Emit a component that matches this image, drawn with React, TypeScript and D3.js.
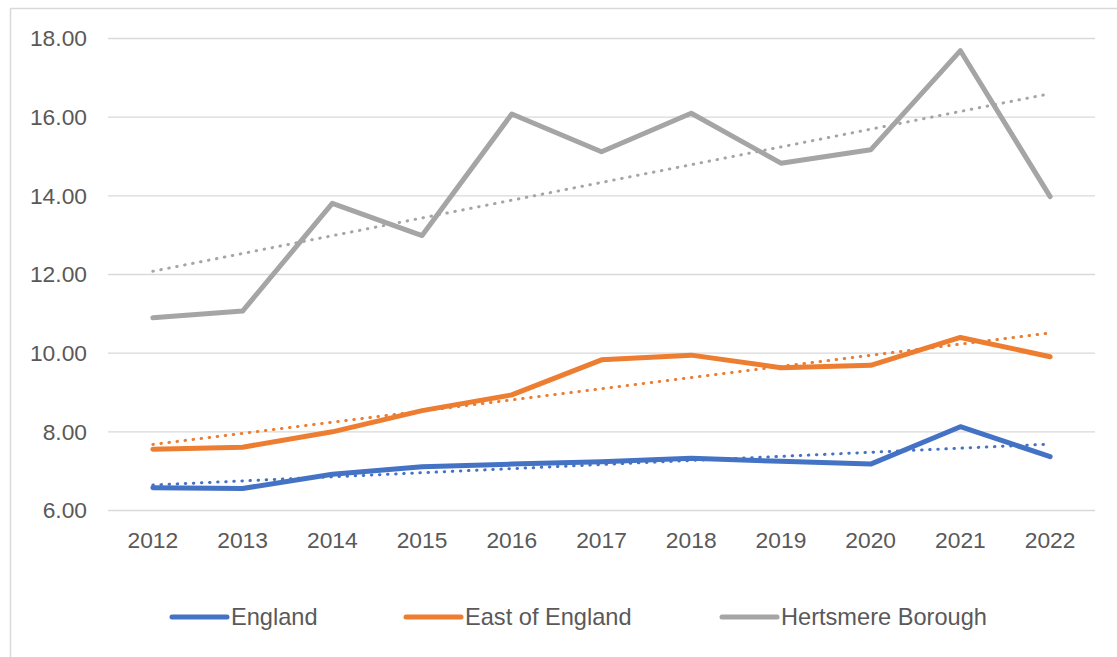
import React, { useRef, useEffect } from "react";
import * as d3 from "d3";

const years = ["2012", "2013", "2014", "2015", "2016", "2017", "2018", "2019", "2020", "2021", "2022"];
const england = [6.58, 6.56, 6.92, 7.11, 7.18, 7.24, 7.33, 7.25, 7.18, 8.13, 7.37];
const eastOfEngland = [7.56, 7.61, 8.0, 8.54, 8.94, 9.83, 9.95, 9.63, 9.69, 10.4, 9.91];
const hertsmere = [10.9, 11.07, 13.81, 12.99, 16.08, 15.12, 16.1, 14.83, 15.17, 17.69, 13.98];
const yTicks = [6, 8, 10, 12, 14, 16, 18];

const seriesList = [
  { name: "England", values: england, color: "#4472C4" },
  { name: "East of England", values: eastOfEngland, color: "#ED7D31" },
  { name: "Hertsmere Borough", values: hertsmere, color: "#A5A5A5" },
];

// least squares fit, like Excel's linear trendline
const linearFit = (vals: number[]) => {
  const n = vals.length;
  const xs = vals.map((_, i) => i + 1);
  const mx = d3.mean(xs) as number;
  const my = d3.mean(vals) as number;
  let num = 0;
  let den = 0;
  xs.forEach((x, i) => {
    num += (x - mx) * (vals[i] - my);
    den += (x - mx) * (x - mx);
  });
  const slope = num / den;
  const icept = my - slope * mx;
  return [icept + slope * 1, icept + slope * n];
};

const App = () => {
  const svgRef = useRef<SVGSVGElement>(null);
  const width = 1117;
  const height = 657;
  const left = 108;
  const right = 1095;
  const top = 38.5;
  const bottom = 510.5;
  const font = "Liberation Sans, Arial, sans-serif";
  const textColor = "#595959";

  useEffect(() => {
    const svg = d3.select(svgRef.current);
    svg.selectAll("*").remove();

    const xScale = d3.scaleBand().domain(years).range([left, right]);
    const xc = (y: string) => (xScale(y) as number) + xScale.bandwidth() / 2;
    const yScale = d3.scaleLinear().domain([6, 18]).range([bottom, top]);

    // outer frame
    svg.append("rect")
      .attr("x", 10.5).attr("y", 8.5)
      .attr("width", 1120).attr("height", 660)
      .attr("fill", "white")
      .attr("stroke", "#d9d9d9")
      .attr("stroke-width", 1.5);

    // grid
    const grid = svg.append("g").attr("class", "grid");
    yTicks.forEach((t) => {
      grid.append("line")
        .attr("x1", left).attr("x2", right)
        .attr("y1", yScale(t)).attr("y2", yScale(t))
        .attr("stroke", "#d9d9d9")
        .attr("stroke-width", 1.3);
      grid.append("text")
        .attr("x", 87).attr("y", yScale(t))
        .attr("dy", "0.35em")
        .attr("text-anchor", "end")
        .attr("font-family", font)
        .attr("font-size", "22.8px")
        .attr("fill", textColor)
        .text(t.toFixed(2));
    });

    years.forEach((y) => {
      svg.append("text")
        .attr("x", xc(y)).attr("y", 548)
        .attr("text-anchor", "middle")
        .attr("font-family", font)
        .attr("font-size", "22.8px")
        .attr("fill", textColor)
        .text(y);
    });

    const line = d3.line<number>()
      .x((_, i) => xc(years[i]))
      .y((d) => yScale(d));

    seriesList.forEach((s) => {
      svg.append("path")
        .datum(s.values)
        .attr("d", line)
        .attr("fill", "none")
        .attr("stroke", s.color)
        .attr("stroke-width", 5)
        .attr("stroke-linejoin", "round")
        .attr("stroke-linecap", "round");
    });

    // trendlines
    seriesList.forEach((s) => {
      const [a, b] = linearFit(s.values);
      svg.append("line")
        .attr("x1", xc(years[0])).attr("y1", yScale(a))
        .attr("x2", xc(years[years.length - 1])).attr("y2", yScale(b))
        .attr("stroke", s.color)
        .attr("stroke-width", 3)
        .attr("stroke-linecap", "round")
        .attr("stroke-dasharray", "0.5 7.6");
    });

    // legend
    const legendX = [172, 406, 722];
    const legend = svg.append("g").attr("class", "legend");
    seriesList.forEach((s, i) => {
      legend.append("line")
        .attr("x1", legendX[i]).attr("x2", legendX[i] + 55)
        .attr("y1", 617).attr("y2", 617)
        .attr("stroke", s.color)
        .attr("stroke-width", 5)
        .attr("stroke-linecap", "round");
      legend.append("text")
        .attr("x", legendX[i] + 59).attr("y", 617)
        .attr("dy", "0.35em")
        .attr("font-family", font)
        .attr("font-size", "23.6px")
        .attr("fill", textColor)
        .text(s.name);
    });
  }, []);

  return (
    <div>
      <svg ref={svgRef} width={width} height={height}
        style={{ position: "absolute", left: 0, top: 0 }} />
    </div>
  );
};

export default App;
